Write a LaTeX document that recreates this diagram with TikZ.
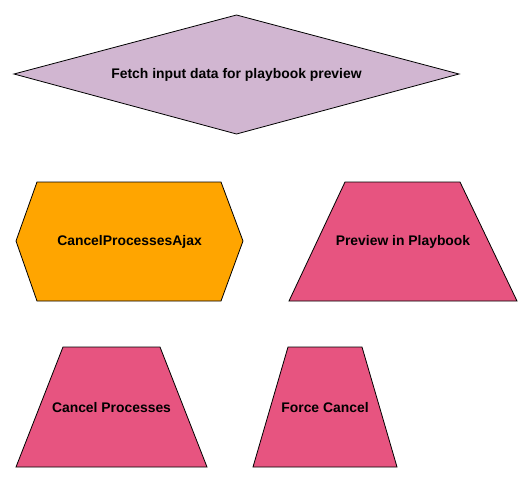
\documentclass[tikz,border=0pt]{standalone}
\usepackage{fontspec}
\setmainfont{Liberation Sans}
\definecolor{lav}{HTML}{D1B6D1}
\definecolor{orng}{HTML}{FFA500}
\definecolor{pnk}{HTML}{E75480}
\begin{document}
\begin{tikzpicture}[x=1pt,y=-1pt,
  shapeline/.style={draw=black,line width=0.8pt,line join=miter},
  lbl/.style={font=\bfseries\fontsize{13.9}{16}\selectfont,text=black,inner sep=0pt}]
\useasboundingbox[fill=white] (0,0) rectangle (532,482);
% diamond
\filldraw[shapeline,fill=lav] (14,74) -- (236.5,15) -- (459,74) -- (236.5,134) -- cycle;
\node[lbl] (fetch) at (236.5,75) {Fetch input data for playbook preview};
% hexagon
\filldraw[shapeline,fill=orng] (16,241) -- (37,182) -- (221,182) -- (243,241) -- (221,301) -- (37,301) -- cycle;
\node[lbl] (ajax) at (129.5,242) {CancelProcessesAjax};
% preview trapezoid
\filldraw[shapeline,fill=pnk] (289,301) -- (345,182) -- (460,182) -- (517,301) -- cycle;
\node[lbl] (preview) at (403,242) {Preview in Playbook};
% cancel processes
\filldraw[shapeline,fill=pnk] (16,467) -- (63,347) -- (160,347) -- (207,467) -- cycle;
\node[lbl] (cancel) at (111.5,408) {Cancel Processes};
% force cancel
\filldraw[shapeline,fill=pnk] (253,467) -- (288,347) -- (362,347) -- (397,467) -- cycle;
\node[lbl] (force) at (325,408) {Force Cancel};
\end{tikzpicture}
\end{document}
